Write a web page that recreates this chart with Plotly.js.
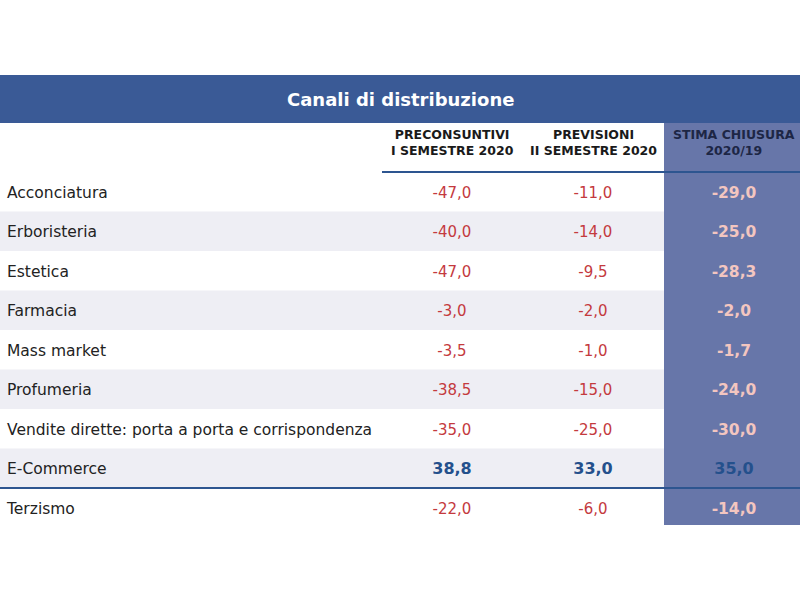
<!DOCTYPE html>
<html>
<head>
<meta charset="utf-8">
<script src="https://cdn.plot.ly/plotly-3.0.1.min.js"></script>
<style>html,body{margin:0;padding:0;background:#fff;}#chart{width:800px;height:600px;}</style>
</head>
<body>
<div id="chart"></div>
<script>
// ---- data ----
const title = "Canali di distribuzione";
const categories = ["Acconciatura","Erboristeria","Estetica","Farmacia","Mass market","Profumeria","Vendite dirette: porta a porta e corrispondenza","E-Commerce","Terzismo"];
const columnHeaders = ["PRECONSUNTIVI<br>I SEMESTRE 2020","PREVISIONI<br>II SEMESTRE 2020","STIMA CHIUSURA<br>2020/19"];
const preconsuntivi = [-47.0,-40.0,-47.0,-3.0,-3.5,-38.5,-35.0,38.8,-22.0];
const previsioni = [-11.0,-14.0,-9.5,-2.0,-1.0,-15.0,-25.0,33.0,-6.0];
const stimaChiusura = [-29.0,-25.0,-28.3,-2.0,-1.7,-24.0,-30.0,35.0,-14.0];
const highlight = "E-Commerce";

// ---- layout constants ----
const W = 800, H = 600;
const rowTop = 172, rowH = 39.5;
const textShift = 2;                       // px: text nudge down
const firstCenter = rowTop + rowH/2 + textShift;
const colX = [452, 593, 734];
const col3Left = 664;
const labelX = 7;
const blue = "#3a5a96", col3Bg = "#6776a9", shade = "#eeeef4", lineC = "#2d5590";
const red = "#c43a3e", pink = "#f3c6c0", dark = "#24508c";
const fontFam = "DejaVu Sans, sans-serif";

const n = categories.length;
const yLo = (H - firstCenter)/rowH, yHi = -firstCenter/rowH;
const py = p => 1 - p/H;               // pixel -> paper
const pyAx = p => (p - firstCenter)/rowH; // pixel -> y axis units

const fmt = v => v.toFixed(1).replace('.', ',');
const series = [preconsuntivi, previsioni, stimaChiusura];

const traces = [];
traces.push({
  type:'scatter', mode:'text', x: categories.map(()=>labelX), y: categories,
  text: categories, textposition:'middle right', hoverinfo:'skip',
  textfont:{family:fontFam, size:15.5, color:"#222222"}, cliponaxis:false, showlegend:false
});
series.forEach((vals, j) => {
  const isC3 = j === 2;
  traces.push({
    type:'scatter', mode:'text', x: categories.map(()=>colX[j]), y: categories,
    text: vals.map((v,i)=> (categories[i]===highlight || isC3) ? '<b>'+fmt(v)+'</b>' : fmt(v)),
    textposition:'middle center', hoverinfo:'skip', cliponaxis:false, showlegend:false,
    textfont:{family:fontFam,
      size: categories.map(c => c===highlight ? 16 : (isC3 ? 15.5 : 15)),
      color: categories.map(c => c===highlight ? dark : (isC3 ? pink : red))}
  });
});

const shapes = [];
shapes.push({type:'rect', xref:'x', yref:'y', x0:0, x1:W, y0:pyAx(75), y1:pyAx(123), fillcolor:blue, line:{width:0}, layer:'below'});
categories.forEach((c,i)=>{ if(i%2===1) shapes.push({type:'rect', xref:'x', yref:'y', x0:0, x1:W, y0:pyAx(rowTop+i*rowH), y1:pyAx(rowTop+(i+1)*rowH), fillcolor:shade, line:{width:0}, layer:'below'}); });
shapes.push({type:'rect', xref:'x', yref:'y', x0:col3Left, x1:W, y0:pyAx(123), y1:pyAx(525), fillcolor:col3Bg, line:{width:0}, layer:'below'});
shapes.push({type:'line', xref:'x', yref:'y', x0:382, x1:W, y0:pyAx(rowTop), y1:pyAx(rowTop), line:{color:lineC, width:2}});
shapes.push({type:'line', xref:'x', yref:'y', x0:0, x1:W, y0:pyAx(rowTop+(n-1)*rowH), y1:pyAx(rowTop+(n-1)*rowH), line:{color:lineC, width:2}});

const annotations = [];
annotations.push({xref:'paper', yref:'paper', x:0.5, y:py(99), text:'<b>'+title+'</b>', showarrow:false,
  font:{family:fontFam, size:18, color:'#ffffff'}, xanchor:'center', yanchor:'middle'});
columnHeaders.forEach((h,j)=>{
  annotations.push({xref:'x', yref:'paper', x:colX[j], y:py(143), text:'<b>'+h+'</b>', showarrow:false,
    font:{family:fontFam, size:12.5, color: j===2 ? '#1d2645' : '#1a1a1a'}, xanchor:'center', yanchor:'middle', align:'center'});
});

const layout = {
  width:W, height:H, margin:{l:0,r:0,t:0,b:0}, paper_bgcolor:'#fff', plot_bgcolor:'rgba(0,0,0,0)',
  xaxis:{range:[0,W], visible:false, fixedrange:true},
  yaxis:{type:'category', categoryorder:'array', categoryarray:categories, range:[yLo, yHi], visible:false, fixedrange:true},
  shapes, annotations, showlegend:false
};
Plotly.newPlot('chart', traces, layout, {staticPlot:true, displayModeBar:false});
</script>
</body>
</html>
